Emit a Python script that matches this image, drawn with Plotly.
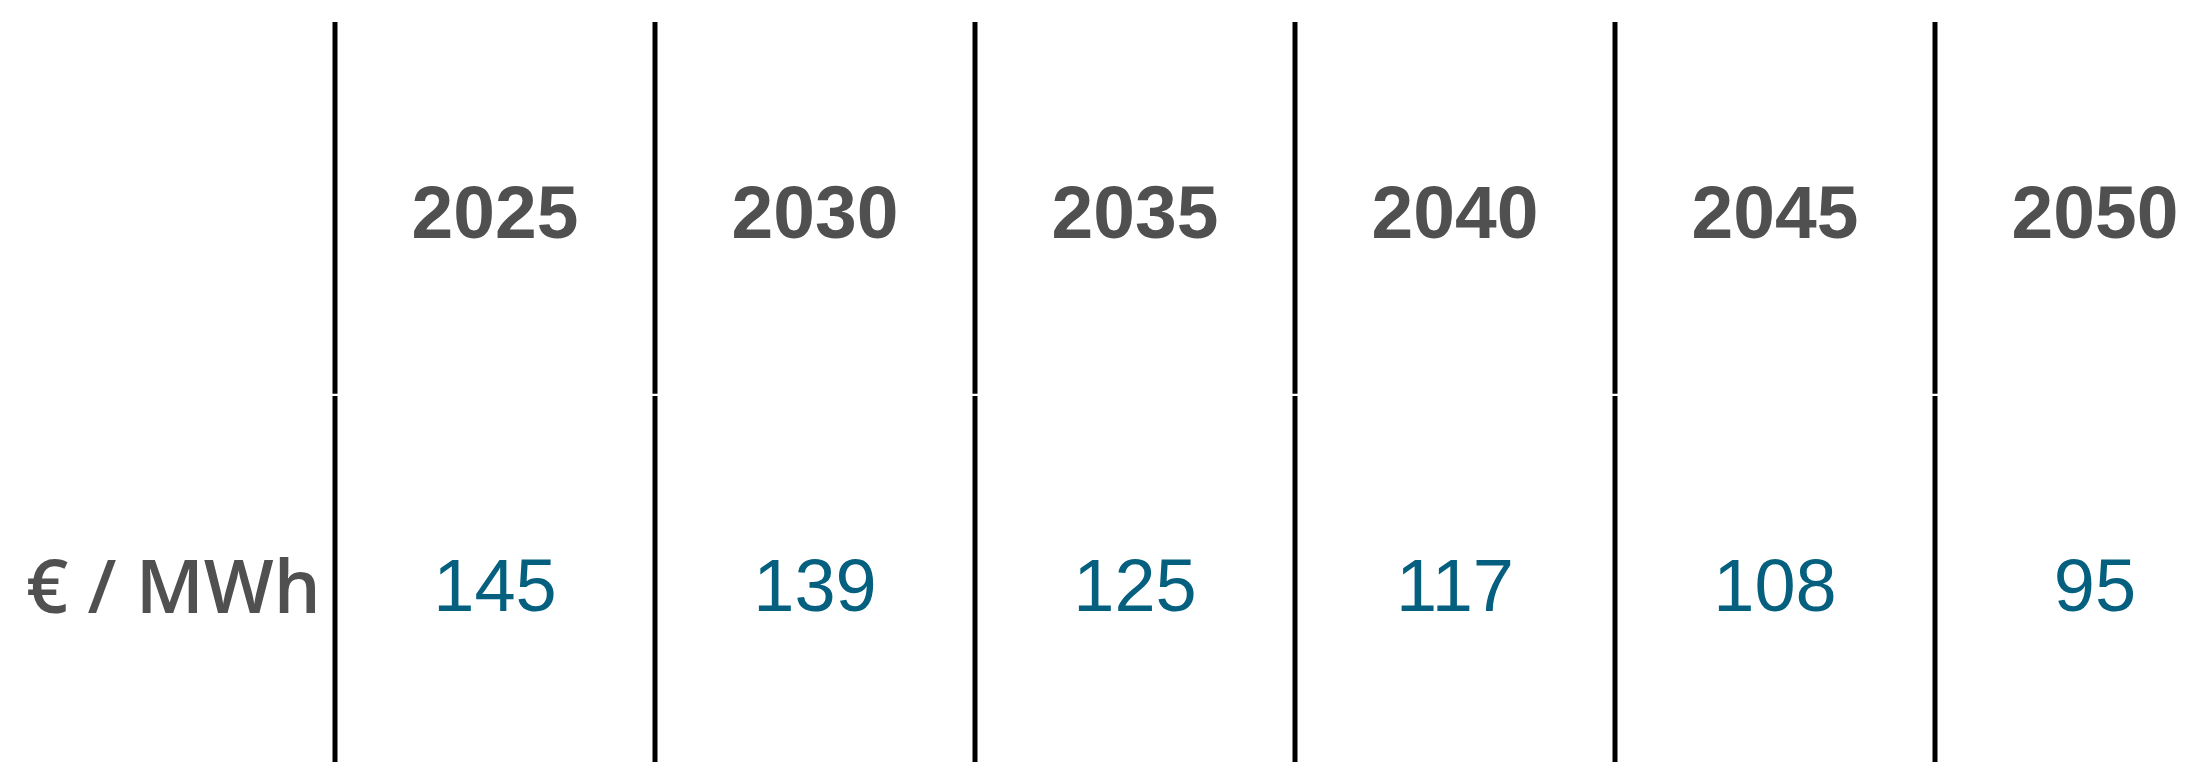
import plotly.graph_objects as go

# table content
years = ["2025", "2030", "2035", "2040", "2045", "2050"]
prices = [145, 139, 125, 117, 108, 95]
unit_label = "€ / MWh"

gray = "#505050"
blue = "#05607f"
font_name = "Liberation Sans, Arial, Helvetica, sans-serif"

cols = list(range(1, len(years) + 1))

fig = go.Figure()

# header row (years)
fig.add_trace(go.Scatter(x=cols, y=[0] * len(years), mode="text",
                         text=years, textposition="middle center",
                         textfont=dict(family=font_name, size=75, color=gray, weight="bold"),
                         hoverinfo="skip", showlegend=False))

# value row
fig.add_trace(go.Scatter(x=cols, y=[1] * len(prices), mode="text",
                         text=[str(v) for v in prices], textposition="middle center",
                         textfont=dict(family=font_name, size=74, color=blue),
                         hoverinfo="skip", showlegend=False))

# row label
fig.add_annotation(x=0.5, y=1, text=unit_label, showarrow=False,
                   xanchor="right", yanchor="middle", xshift=-12, yshift=8,
                   font=dict(family="Open Sans, sans-serif", size=74, color=gray, weight=600))

# column separators, one segment per row with a small gap between rows
for c in cols:
    for r in (0, 1):
        fig.add_shape(type="line", x0=c - 0.5, x1=c - 0.5,
                      y0=r - 0.527, y1=r + 0.467,
                      line=dict(color="black", width=5))

fig.update_xaxes(range=[-175 / 320, 2017 / 320], visible=False, fixedrange=True)
fig.update_yaxes(range=[1.452, -0.5856], visible=False, fixedrange=True)

fig.update_layout(
    width=2192, height=762,
    margin=dict(l=0, r=0, t=0, b=0),
    paper_bgcolor="white",
    plot_bgcolor="white",
)

fig.write_html("out.html", config={"displayModeBar": False},
               post_script="document.body.style.margin='0';")
